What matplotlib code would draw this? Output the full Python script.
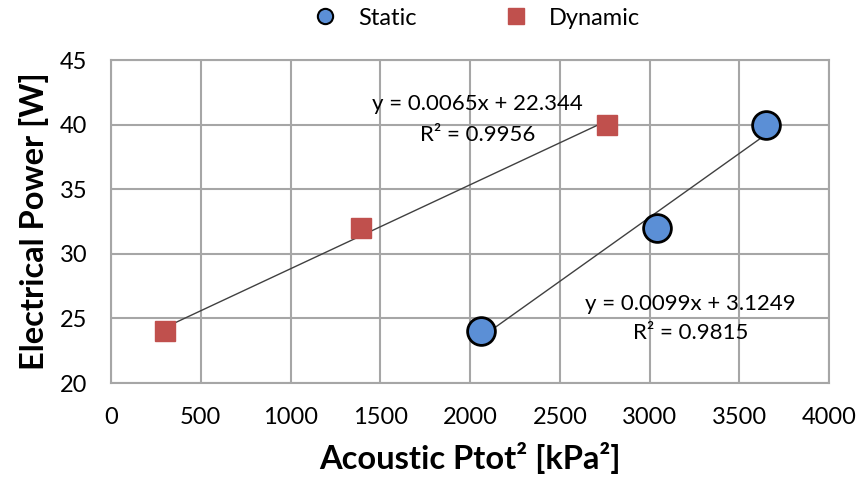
import matplotlib.pyplot as plt
import numpy as np
from matplotlib.lines import Line2D

plt.rcParams['font.family'] = ['Lato', 'DejaVu Sans']

# measured points
static_x = [2060, 3040, 3650]
static_y = [24, 32, 40]
dynamic_x = [300, 1390, 2760]
dynamic_y = [24, 32, 40]

# linear fits as reported
static_fit = (0.0099, 3.1249, 0.9815)
dynamic_fit = (0.0065, 22.344, 0.9956)

x_ticks = [0, 500, 1000, 1500, 2000, 2500, 3000, 3500, 4000]
y_ticks = [20, 25, 30, 35, 40, 45]

fig = plt.figure(figsize=(8.56, 4.79), dpi=100)
ax = fig.add_axes([0.1297, 0.2004, 0.839, 0.6743])

grid_col = '#A6A6A6'

# trendlines across the range of each series
for xs, (m, b, r2) in [(static_x, static_fit), (dynamic_x, dynamic_fit)]:
    xx = np.array([min(xs), max(xs)])
    ax.plot(xx, m * xx + b, color='#404040', lw=1.0, zorder=3)

ax.plot(dynamic_x, dynamic_y, 's', ms=14, color='#C0504D', mec='#C0504D',
        zorder=4, label='Dynamic')
ax.plot(static_x, static_y, 'o', ms=20, color='#5B8FD6', mec='black', mew=2,
        zorder=5, label='Static')

m, b, r2 = dynamic_fit
ax.text(2040, 41.6, 'y = %.4fx + %.3f' % (m, b), ha='center', va='center', fontsize=16)
ax.text(2040, 39.2, 'R² = %.4f' % r2, ha='center', va='center', fontsize=16)
m, b, r2 = static_fit
ax.text(3226, 26.1, 'y = %.4fx + %.4f' % (m, b), ha='center', va='center', fontsize=16)
ax.text(3226, 23.9, 'R² = %.4f' % r2, ha='center', va='center', fontsize=16)

ax.set_xlim(0, 4000)
ax.set_ylim(20, 45)
ax.set_xticks(x_ticks)
ax.set_yticks(y_ticks)
ax.grid(True, color=grid_col, lw=1.5)
ax.set_axisbelow(True)
for s in ax.spines.values():
    s.set_color(grid_col)
    s.set_linewidth(1.5)
ax.tick_params(length=0, labelsize=17)
ax.tick_params(axis='x', pad=17)
ax.tick_params(axis='y', pad=17)

ax.set_xlabel('Acoustic Ptot² [kPa²]', fontsize=23.5, fontweight='bold', labelpad=10)
ax.set_ylabel('Electrical Power [W]', fontsize=23.5, fontweight='bold', labelpad=8)

# legend: static first, then dynamic
hs = [Line2D([], [], marker='o', ls='', ms=11, color='#5B8FD6', mec='black', mew=1.5),
      Line2D([], [], marker='s', ls='', ms=12, color='#C0504D')]
fig.legend(hs, ['Static', 'Dynamic'], loc='center', bbox_to_anchor=(0.55, 0.962),
           ncol=2, frameon=False, fontsize=17, columnspacing=3.2, handletextpad=0.4)

fig.savefig('out.png', dpi=100)
